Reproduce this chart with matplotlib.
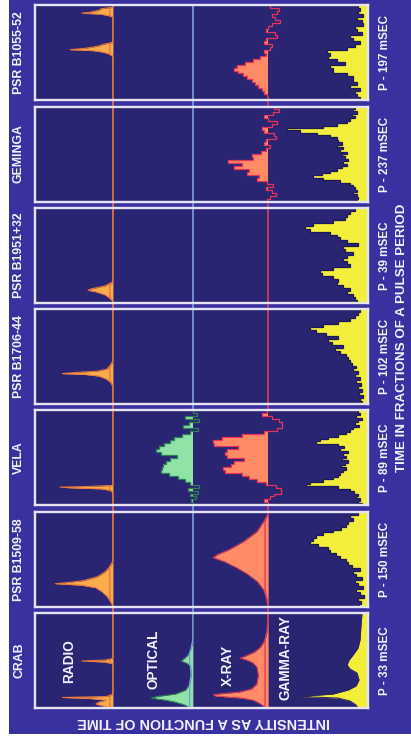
import numpy as np
import matplotlib
matplotlib.use('Agg')
import matplotlib.pyplot as plt
from matplotlib import font_manager

# light curves of seven pulsars in four bands (radio, optical, x-ray, gamma-ray)
# phase runs down each panel (0 = top), intensity grows to the left of each band baseline

names = ['CRAB', 'PSR B1509-58', 'VELA', 'PSR B1706-44', 'PSR B1951+32', 'GEMINGA', 'PSR B1055-52']
periods = ['P - 33 mSEC', 'P - 150 mSEC', 'P - 89 mSEC', 'P - 102 mSEC', 'P - 39 mSEC', 'P - 237 mSEC', 'P - 197 mSEC']
band_labels = ['RADIO', 'OPTICAL', 'X-RAY', 'GAMMA-RAY']

# ---- smooth profiles: (phase, intensity) pairs
crab_radio_ph = [0, .479, .495, .505, .516, .537, .853, .879, .889, .900, .916, .937, .958, .979, .995, 1.0]
crab_radio = [0, 0, .10, .40, .10, 0, 0, .08, .65, .30, .08, .18, .22, .12, 0, 0]

crab_opt_ph = [0, .284, .368, .432, .474, .505, .526, .558, .653, .747, .811, .853, .879, .895, .916, .937, .968, 1.0]
crab_opt = [0, 0, .02, .05, .10, .15, .08, .03, .02, .04, .09, .22, .45, .52, .35, .22, .10, .03]

crab_xray_ph = [0, .179, .284, .358, .411, .453, .474, .495, .526, .568, .653, .747, .800, .832, .858, .874, .895, .916, .947, .979, 1.0]
crab_xray = [0, .01, .04, .10, .18, .30, .37, .28, .20, .15, .13, .15, .22, .38, .73, .70, .35, .20, .12, .06, .03]

crab_gamma_ph = [0, .126, .284, .368, .442, .495, .547, .589, .632, .705, .768, .811, .853, .879, .895, .926, .968, 1.0]
crab_gamma = [.06, .07, .08, .10, .15, .19, .21, .18, .11, .09, .12, .20, .35, .68, .30, .18, .12, .10]

b1509_radio_ph = [0, .526, .579, .632, .684, .726, .747, .758, .774, .800, .842, .895, .947, .989, 1.0]
b1509_radio = [0, 0, .04, .10, .20, .38, .60, .74, .40, .22, .14, .07, .03, 0, 0]

b1509_xray_ph = [0, .021, .105, .211, .316, .400, .453, .484, .526, .589, .653, .737, .821, .905, 1.0]
b1509_xray = [0, 0, .06, .15, .33, .52, .68, .73, .58, .42, .28, .14, .06, .02, 0]

vela_radio_ph = [0, .789, .800, .808, .817, .826, .842, .863, 1.0]
vela_radio = [0, 0, .30, .68, .50, .15, .03, 0, 0]

b1706_radio_ph = [0, .55, .589, .632, .653, .668, .679, .689, .705, .737, .779, .811, 1.0]
b1706_radio = [0, 0, .03, .08, .20, .50, .65, .35, .18, .08, .02, 0, 0]

b1951_radio_ph = [0, .779, .821, .853, .868, .884, .916, .958, .979, 1.0]
b1951_radio = [0, 0, .10, .28, .32, .22, .10, .03, 0, 0]

b1055_radio_ph = [0, .021, .037, .053, .074, .084, .095, .111, .126, .389, .411, .432, .453, .468, .479, .495, .516, .537, 1.0]
b1055_radio = [0, 0, .15, .18, .30, .40, .15, .05, 0, 0, .12, .20, .35, .55, .25, .12, .04, 0, 0]

# ---- binned histograms (equal phase bins)
b1509_gamma = [.10, .18, .15, .20, .22, .27, .35, .45, .52, .55, .58, .50, .40, .38, .32, .28,
               .22, .20, .16, .08, .15, .12, .06, .13, .10, .05, .12, .08, .04, .10, .07, .09]

vela_opt = [0, -.05, .10, -.08, .05, .12, -.06, .04, .14, .24, .29, .36, .42, .46, .40, .20,
            .29, .34, .37, .39, .40, .30, .18, .10, .04, -.08, .06, -.06, .03, -.04, .02, 0]

vela_xray = [.02, .08, -.05, -.15, -.18, -.18, -.12, .05, .35, .62, .73, .72, .40, .55, .57, .55,
             .32, .45, .50, .60, .58, .35, .25, .15, .03, -.10, -.17, -.17, -.08, -.02, .05, 0]

vela_gamma = [.10, .08, .12, .06, .10, .13, .09, .15, .18, .22, .30, .40, .48, .52, .30, .24, .28, .20, .25, .22,
              .26, .20, .23, .27, .22, .25, .28, .30, .35, .45, .58, .62, .30, .18, .14, .10, .12, .08, .10, .06]

b1706_gamma = [.08, .10, .13, .18, .30, .45, .58, .52, .42, .30, .40, .36, .25, .33, .28, .22,
               .20, .18, .16, .12, .15, .10, .13, .08, .12, .07, .10, .06, .09, .05, .08, .06]

b1951_gamma = [.13, .18, .21, .23, .35, .55, .63, .58, .38, .31, .28, .21, .10, .25, .23, .15,
               .21, .25, .21, .18, .35, .48, .46, .35, .30, .31, .25, .18, .21, .15, .13, .11]

geminga_xray = [-.08, -.14, -.06, .05, 0, -.12, -.05, .08, .05, -.08, -.10, .03, .05, -.03, .03, .10,
                .22, .20, .53, .35, .45, .25, .28, .12, .15, .02, -.06, .03, -.05, -.10, -.02, .02]

geminga_gamma = [.13, .15, .11, .16, .13, .18, .21, .31, .45, .81, .68, .51, .38, .31, .30, .26, .31, .25, .28, .21,
                 .26, .23, .20, .25, .21, .26, .31, .38, .46, .55, .45, .28, .18, .15, .13, .11, .15, .11, .10, .11]

b1055_xray = [-.03, -.14, -.12, -.05, -.09, -.16, -.05, 0, .03, -.09, -.12, .03, .05, -.05, -.03, .05,
              .03, .11, .20, .31, .42, .46, .40, .33, .28, .22, .17, .13, .08, .05, .01, 0]

b1055_gamma = [.10, .08, .10, .05, .11, .06, .05, .13, .11, .06, .18, .15, .08, .13, .21, .41,
               .38, .40, .31, .23, .38, .35, .35, .21, .15, .15, .11, .18, .08, .13, .11, .08]

# per pulsar: (radio, optical, xray, gamma); a tuple is a smooth profile, a list is binned
curves = [
    ((crab_radio_ph, crab_radio), (crab_opt_ph, crab_opt), (crab_xray_ph, crab_xray), (crab_gamma_ph, crab_gamma)),
    ((b1509_radio_ph, b1509_radio), None, (b1509_xray_ph, b1509_xray), b1509_gamma),
    ((vela_radio_ph, vela_radio), vela_opt, vela_xray, vela_gamma),
    ((b1706_radio_ph, b1706_radio), None, None, b1706_gamma),
    ((b1951_radio_ph, b1951_radio), None, None, b1951_gamma),
    (None, None, geminga_xray, geminga_gamma),
    ((b1055_radio_ph, b1055_radio), None, b1055_xray, b1055_gamma),
]

# ---- styling
BG = '#3a31a0'
PANEL = '#2a2572'
BORDER = '#e6e3f3'
TXT = '#f3f1fb'
fills = ['#f8ac4c', '#8fe3a6', '#ff8c66', '#f2ee3a']
edges = ['#ee7a3a', '#2f7f55', '#e8345a', '#1c1a55']
lines = ['#e8783c', '#7aa2d8', '#e23a5c', '#f2ee3a']
base = [0.234, 0.474, 0.700, 1.0]     # baseline of each band in panel width units
scale = [0.234, 0.24, 0.225, 0.30]    # width taken by unit intensity

avail = {f.name for f in font_manager.fontManager.ttflist}
FONT = 'Liberation Sans Narrow' if 'Liberation Sans Narrow' in avail else 'Liberation Sans'
plt.rcParams['font.family'] = [FONT, 'DejaVu Sans']
plt.rcParams['font.weight'] = 'bold'

W, H = 411, 742
fig = plt.figure(figsize=(W / 100, H / 100), dpi=100, facecolor='white')

def fx(x):
    return x / W

def fy(y):
    return 1 - y / H

bg = fig.add_axes([fx(9), fy(734), fx(W - 9), 734 / H])
bg.set_xlim(9, W)
bg.set_ylim(734, 0)
bg.set_facecolor(BG)
bg.set_xticks([])
bg.set_yticks([])
for s in bg.spines.values():
    s.set_visible(False)

# band baselines run through the whole column of panels
for b in range(3):
    xp = 35 + base[b] * 333
    bg.plot([xp, xp], [5, 708], color=lines[b], lw=1.2, solid_capstyle='butt')

PX0, PW, PH, PITCH, TOP0 = 35, 333, 95, 101.3, 613

for k in range(7):
    top = TOP0 - k * PITCH
    ax = fig.add_axes([fx(PX0), fy(top + PH), fx(PW), PH / H])
    ax.set_xlim(0, 1)
    ax.set_ylim(1, 0)
    ax.set_facecolor(PANEL)
    ax.set_xticks([])
    ax.set_yticks([])
    for s in ax.spines.values():
        s.set_color(BORDER)
        s.set_linewidth(1.7)

    for b, c in enumerate(curves[k]):
        if c is None:
            ax.axvline(base[b], color=lines[b], lw=1.2)
            continue
        if isinstance(c, tuple):
            ph, val = np.array(c[0]), np.array(c[1])
            xs = base[b] - scale[b] * val
            ax.fill_betweenx(ph, base[b], xs, color=fills[b], lw=0)
            ax.plot(xs, ph, color=edges[b] if b < 3 else '#2a2560', lw=0.7)
            if b < 3:
                ax.plot(base[b] - scale[b] * np.clip(val, 0, 0.04), ph, color=lines[b], lw=1.0)
        else:
            val = np.array(c)
            ed = np.linspace(0, 1, len(val) + 1)
            ax.stairs(base[b] - scale[b] * np.clip(val, 0, None), ed, baseline=base[b],
                      orientation='horizontal', fill=True, color=fills[b], lw=0)
            ax.stairs(base[b] - scale[b] * val, ed, baseline=None,
                      orientation='horizontal', color=edges[b], lw=0.9)

    yc = top + PH / 2
    fig.text(fx(19), fy(yc), names[k], rotation=90, ha='center', va='center',
             color=TXT, fontsize=8.8)
    fig.text(fx(385), fy(yc), periods[k], rotation=90, ha='center', va='center',
             color=TXT, fontsize=8.4)

# band names written inside the crab panel
for lab, (xl, yl) in zip(band_labels, [(69, 661), (153, 659), (228, 665), (285, 658)]):
    fig.text(fx(xl), fy(yl), lab, rotation=90, ha='center', va='center', color=TXT, fontsize=9.8)

fig.text(fx(204), fy(722), 'INTENSITY AS A FUNCTION OF TIME', rotation=180, ha='center', va='center',
         color=TXT, fontsize=10.4)
fig.text(fx(402), fy(338), 'TIME IN FRACTIONS OF A PULSE PERIOD', rotation=90, ha='center', va='center',
         color=TXT, fontsize=9.6)

fig.savefig('out.png', dpi=100, facecolor='white')
